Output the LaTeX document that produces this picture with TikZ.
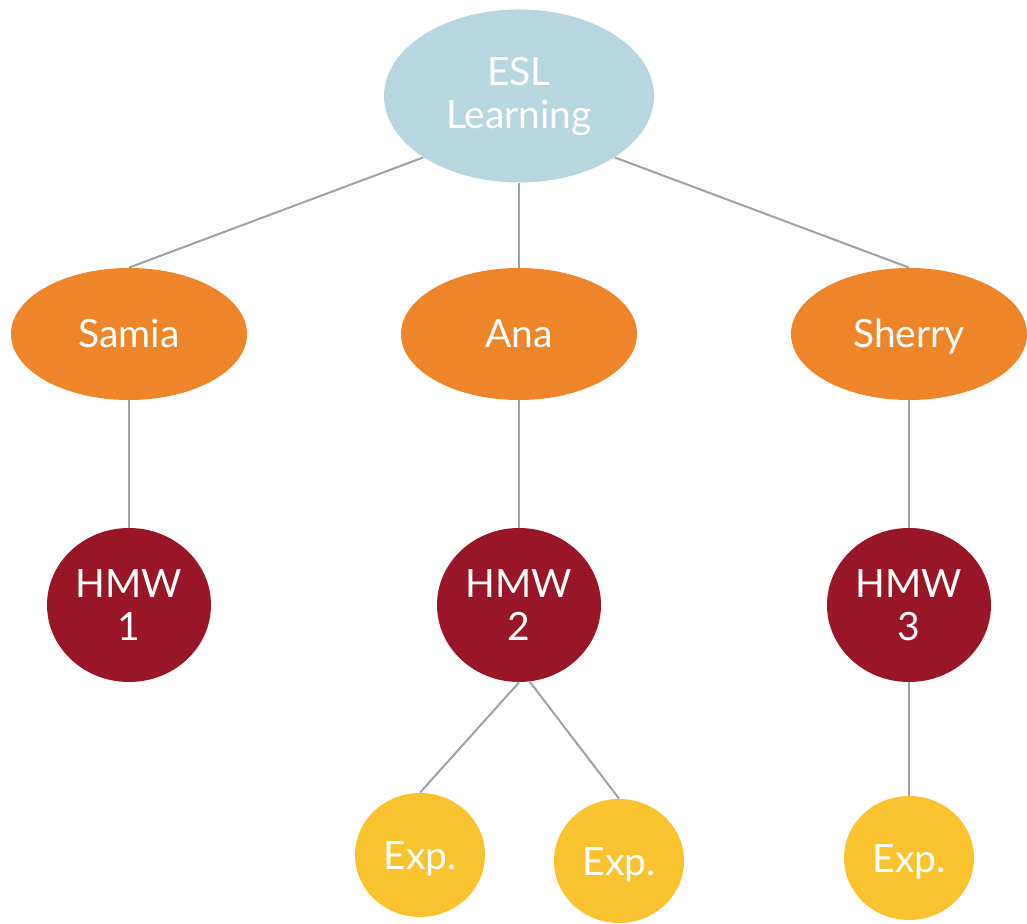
\documentclass[tikz,border=0pt]{standalone}
\usepackage{fontspec}
\setmainfont{Lato}
\usetikzlibrary{shapes.geometric}
\definecolor{eslblue}{HTML}{B7D6DF}
\definecolor{kidorange}{HTML}{EE852A}
\definecolor{hmwred}{HTML}{981628}
\definecolor{expyellow}{HTML}{F9C32F}
\definecolor{linkgray}{HTML}{9AA4A8}
\tikzset{
  bubble/.style={ellipse, inner sep=0pt, text=white, align=center,
    font=\fontsize{19.5}{21.5}\selectfont},
  oneline/.style={text height=14pt, text depth=0pt},
  rootnode/.style={bubble, fill=eslblue, minimum width=135pt, minimum height=86.5pt},
  kidnode/.style={bubble, oneline, fill=kidorange, minimum width=118pt, minimum height=66pt},
  hmwnode/.style={bubble, fill=hmwred, minimum width=82pt, minimum height=77pt},
  expnode/.style={bubble, oneline, fill=expyellow, minimum width=65pt, minimum height=62pt},
  link/.style={draw=linkgray, line width=1pt}
}
\begin{document}
\begin{tikzpicture}[x=0.5pt,y=-0.5pt]
\useasboundingbox (0,0) rectangle (1027,924);
\node[rootnode] (esl) at (519,96) {ESL\\Learning};
\node[kidnode] (samia) at (129,334) {Samia};
\node[kidnode] (ana) at (519,334) {Ana};
\node[kidnode] (sherry) at (909,334) {Sherry};
\node[hmwnode] (h1) at (129,605) {HMW\\1};
\node[hmwnode] (h2) at (519,605) {HMW\\2};
\node[hmwnode] (h3) at (909,605) {HMW\\3};
\node[expnode] (e1) at (420,855) {Exp.};
\node[expnode] (e2) at (619,861) {Exp.};
\node[expnode] (e3) at (909,858) {Exp.};
\draw[link] (esl.south west) -- (samia.north);
\draw[link] (esl.south) -- (ana.north);
\draw[link] (esl.south east) -- (sherry.north);
\draw[link] (samia.south) -- (h1.north);
\draw[link] (ana.south) -- (h2.north);
\draw[link] (sherry.south) -- (h3.north);
\draw[link] (h2.south) -- (e1.north);
\draw[link] (h2.-82) -- (e2.north);
\draw[link] (h3.south) -- (e3.north);
\end{tikzpicture}
\end{document}
